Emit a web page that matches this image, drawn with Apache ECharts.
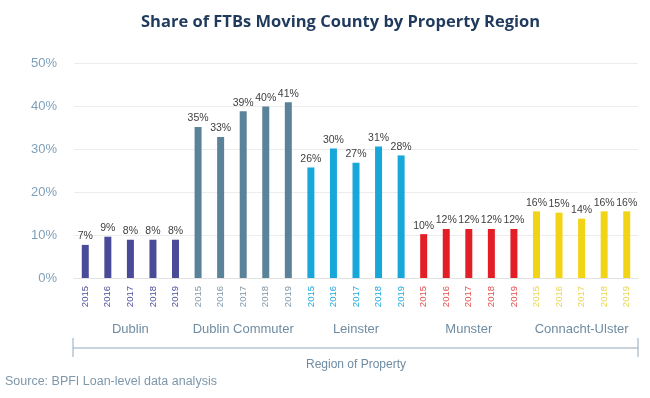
<!DOCTYPE html>
<html>
<head>
<meta charset="utf-8">
<script src="https://cdn.jsdelivr.net/npm/echarts@6/dist/echarts.min.js"></script>
<style>
  html, body { margin: 0; padding: 0; background: #fff; }
  #chart { width: 650px; height: 398px; }
</style>
</head>
<body>
<div id="chart"></div>
<script>
// data
const regions = ['Dublin', 'Dublin Commuter', 'Leinster', 'Munster', 'Connacht-Ulster']
const years = ['2015', '2016', '2017', '2018', '2019']
const dublin = [7.7, 9.6, 8.9, 8.9, 8.9]
const dublinCommuter = [35.1, 32.8, 38.8, 39.9, 40.9]
const leinster = [25.7, 30.1, 26.8, 30.6, 28.5]
const munster = [10.2, 11.4, 11.4, 11.4, 11.4]
const connachtUlster = [15.5, 15.2, 13.8, 15.5, 15.5]
const shareLabels = [
  '7%', '9%', '8%', '8%', '8%',
  '35%', '33%', '39%', '40%', '41%',
  '26%', '30%', '27%', '31%', '28%',
  '10%', '12%', '12%', '12%', '12%',
  '16%', '15%', '14%', '16%', '16%'
]
const barColors = ['#4a4b98', '#5a8298', '#17a7d8', '#e21f26', '#f1d416']
const yearColors = ['#4e4f9c', '#7f97a8', '#20aad9', '#e2504c', '#e9d655']

const allValues = [].concat(dublin, dublinCommuter, leinster, munster, connachtUlster)
const categories = []
regions.forEach(() => years.forEach(y => categories.push(y)))

const gridLeft = 74
const gridRight = 12
const chartWidth = 650

const chart = echarts.init(document.getElementById('chart'))

let rich = {}
yearColors.forEach((c, i) => {
  rich['g' + i] = { color: c, fontSize: 9.5, fontFamily: 'Liberation Sans' }
})

const option = {
  animation: false,
  title: {
    text: 'Share of FTBs Moving County by Property Region',
    left: 136,
    top: 9,
    textStyle: {
      fontFamily: 'Open Sans',
      fontWeight: 'bold',
      fontSize: 16.5,
      color: '#1f3a5c'
    }
  },
  grid: {
    left: gridLeft,
    right: gridRight,
    top: 63,
    bottom: 120
  },
  xAxis: [{
    type: 'category',
    data: categories,
    axisLine: { lineStyle: { color: '#e3e3e3' } },
    axisTick: { show: false },
    axisLabel: {
      rotate: 90,
      interval: 0,
      margin: 8,
      formatter: (value, index) => '{g' + Math.floor(index / 5) + '|' + value + '}',
      rich: rich
    }
  }, {
    type: 'category',
    data: regions,
    position: 'bottom',
    offset: 41,
    axisLine: { show: false },
    axisTick: { show: false },
    axisLabel: {
      interval: 0,
      margin: 4,
      fontSize: 13,
      fontFamily: 'Liberation Sans',
      color: '#6f8ca2'
    }
  }],
  yAxis: {
    type: 'value',
    min: 0,
    max: 50,
    interval: 10,
    axisLine: { show: false },
    axisTick: { show: false },
    axisLabel: {
      margin: 17,
      fontSize: 13,
      fontFamily: 'Liberation Sans',
      color: '#7fa0ba',
      formatter: '{value}%'
    },
    splitLine: { lineStyle: { color: '#ececec' } }
  },
  series: [{
    type: 'bar',
    xAxisIndex: 0,
    barWidth: 7,
    data: allValues,
    itemStyle: {
      color: p => barColors[Math.floor(p.dataIndex / 5)]
    },
    label: {
      show: true,
      position: 'top',
      distance: 3,
      fontSize: 10.5,
      fontFamily: 'Liberation Sans',
      color: '#404040',
      formatter: p => shareLabels[p.dataIndex]
    }
  }],
  graphic: [
    {
      type: 'line',
      shape: { x1: gridLeft - 1, y1: 348, x2: chartWidth - gridRight, y2: 348 },
      style: { stroke: '#93a8b8', lineWidth: 1 }
    },
    {
      type: 'line',
      shape: { x1: gridLeft - 1, y1: 338, x2: gridLeft - 1, y2: 357 },
      style: { stroke: '#93a8b8', lineWidth: 1 }
    },
    {
      type: 'line',
      shape: { x1: chartWidth - gridRight, y1: 338, x2: chartWidth - gridRight, y2: 357 },
      style: { stroke: '#93a8b8', lineWidth: 1 }
    },
    {
      type: 'text',
      x: (gridLeft + chartWidth - gridRight) / 2,
      y: 365,
      style: {
        text: 'Region of Property',
        align: 'center',
        verticalAlign: 'middle',
        fontSize: 12,
        fontFamily: 'Liberation Sans',
        fill: '#6f8ca2'
      }
    },
    {
      type: 'text',
      x: 5,
      y: 382,
      style: {
        text: 'Source: BPFI Loan-level data analysis',
        verticalAlign: 'middle',
        fontSize: 12.5,
        fontFamily: 'Liberation Sans',
        fill: '#7d97ab'
      }
    }
  ]
}

chart.setOption(option)
</script>
</body>
</html>
